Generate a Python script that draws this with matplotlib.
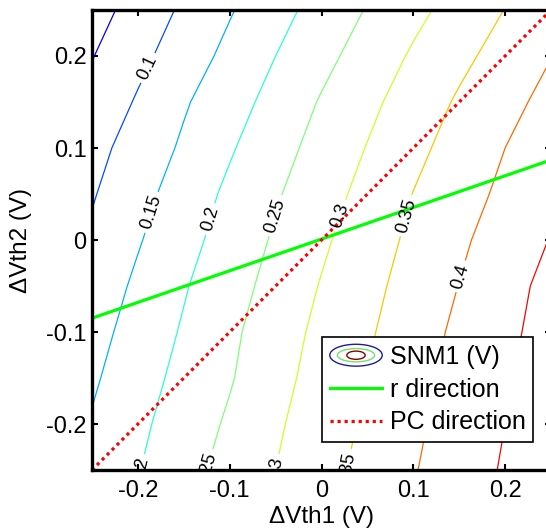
import numpy as np
import matplotlib
matplotlib.use('Agg')
import matplotlib.pyplot as plt
from matplotlib.patches import Ellipse
from matplotlib.legend_handler import HandlerBase

plt.rcParams['font.family'] = ['Liberation Sans', 'DejaVu Sans']
plt.rcParams['axes.unicode_minus'] = False

# grid of dVth1 (columns) and dVth2 (rows)
vth1 = [-0.25, -0.2, -0.15, -0.1, -0.05, 0.0, 0.05, 0.1, 0.15, 0.2, 0.25]
vth2 = [-0.25, -0.2, -0.15, -0.1, -0.05, 0.0, 0.05, 0.1, 0.15, 0.2, 0.25]
snm1 = [
    [0.164, 0.198, 0.233, 0.267, 0.300, 0.332, 0.364, 0.397, 0.426, 0.455, 0.484],
    [0.154, 0.190, 0.223, 0.257, 0.293, 0.326, 0.358, 0.391, 0.421, 0.450, 0.479],
    [0.143, 0.180, 0.214, 0.246, 0.284, 0.319, 0.351, 0.384, 0.415, 0.445, 0.474],
    [0.132, 0.170, 0.205, 0.240, 0.277, 0.312, 0.344, 0.377, 0.410, 0.439, 0.469],
    [0.120, 0.159, 0.196, 0.231, 0.266, 0.303, 0.336, 0.369, 0.401, 0.433, 0.464],
    [0.108, 0.146, 0.184, 0.220, 0.256, 0.292, 0.327, 0.360, 0.392, 0.422, 0.452],
    [0.096, 0.134, 0.172, 0.210, 0.245, 0.280, 0.315, 0.351, 0.381, 0.410, 0.440],
    [0.084, 0.121, 0.157, 0.195, 0.232, 0.267, 0.302, 0.337, 0.370, 0.400, 0.428],
    [0.065, 0.105, 0.145, 0.179, 0.217, 0.254, 0.288, 0.323, 0.356, 0.385, 0.415],
    [0.048, 0.087, 0.125, 0.163, 0.200, 0.236, 0.271, 0.306, 0.338, 0.369, 0.399],
    [0.030, 0.069, 0.108, 0.146, 0.183, 0.218, 0.253, 0.287, 0.319, 0.351, 0.381],
]
levels = [0.05, 0.1, 0.15, 0.2, 0.25, 0.3, 0.35, 0.4, 0.45]

# r direction and PC direction lines
r_x = [-0.25, 0.25]
r_y = [-0.085, 0.087]
pc_x = [-0.25, 0.25]
pc_y = [-0.25, 0.25]

ticks = [-0.2, -0.1, 0, 0.1, 0.2]
tick_labels = ['-0.2', '-0.1', '0', '0.1', '0.2']

# where the contour labels sit (layout)
label_pos = [(-0.187, 0.186), (-0.185, 0.030), (-0.122, 0.023), (-0.049, 0.026),
             (0.022, 0.026), (0.094, 0.026), (0.150, -0.039),
             (-0.195, -0.262), (-0.117, -0.255), (-0.046, -0.256), (0.031, -0.253)]


class ContourIcon(object):
    pass


class ContourHandler(HandlerBase):
    def create_artists(self, legend, orig_handle, xdescent, ydescent,
                       width, height, fontsize, trans):
        cx = width / 2 - xdescent
        cy = height / 2 - ydescent
        out = []
        for sw, sh, col in [(1.0, 1.25, '#1c1ca0'), (0.71, 0.76, '#70e070'), (0.35, 0.47, '#8b0000')]:
            e = Ellipse((cx, cy), width * sw, height * sh, fill=False,
                        edgecolor=col, lw=1.0, transform=trans)
            out.append(e)
        return out


fig = plt.figure(figsize=(5.46, 5.29), dpi=100)
ax = fig.add_axes([0.1685, 0.1115, 0.8407, 0.8696])

norm = plt.Normalize(0.0, 0.5)
cs = ax.contour(vth1, vth2, snm1, levels=levels, cmap='jet', norm=norm, linewidths=0.9)
ax.clabel(cs, manual=label_pos, fontsize=13, colors='k', fmt='%g',
          inline=True, inline_spacing=4)
for t in cs.labelTexts:
    t.set_clip_on(True)

l1, = ax.plot(r_x, r_y, color=(0, 1, 0), lw=2.3)
l2, = ax.plot(pc_x, pc_y, color='red', ls=(0, (1, 1.2)), lw=2.3)

ax.set_xlim(-0.25, 0.25)
ax.set_ylim(-0.25, 0.25)
ax.set_xticks(ticks)
ax.set_xticklabels(tick_labels)
ax.set_yticks(ticks)
ax.set_yticklabels(tick_labels)
ax.tick_params(direction='in', length=4, width=1.5, top=True, right=True, labelsize=17)
ax.tick_params(axis='x', pad=7)
ax.tick_params(axis='y', pad=4)
for sp in ax.spines.values():
    sp.set_linewidth(2.4)

ax.set_xlabel('\u0394Vth1 (V)', fontsize=17.5, labelpad=3)
ax.set_ylabel('\u0394Vth2 (V)', fontsize=17.5, labelpad=10)

leg = ax.legend([ContourIcon(), l1, l2], ['SNM1 (V)', 'r direction', 'PC direction'],
                handler_map={ContourIcon: ContourHandler()},
                loc='lower right', bbox_to_anchor=(0.961, 0.061), fontsize=18,
                frameon=True, fancybox=False, edgecolor='k', framealpha=1,
                handlelength=2.1, handletextpad=0.3, labelspacing=0.35,
                borderpad=0.3, borderaxespad=0)
leg.get_frame().set_linewidth(1.2)

fig.savefig('out.png', dpi=100)
